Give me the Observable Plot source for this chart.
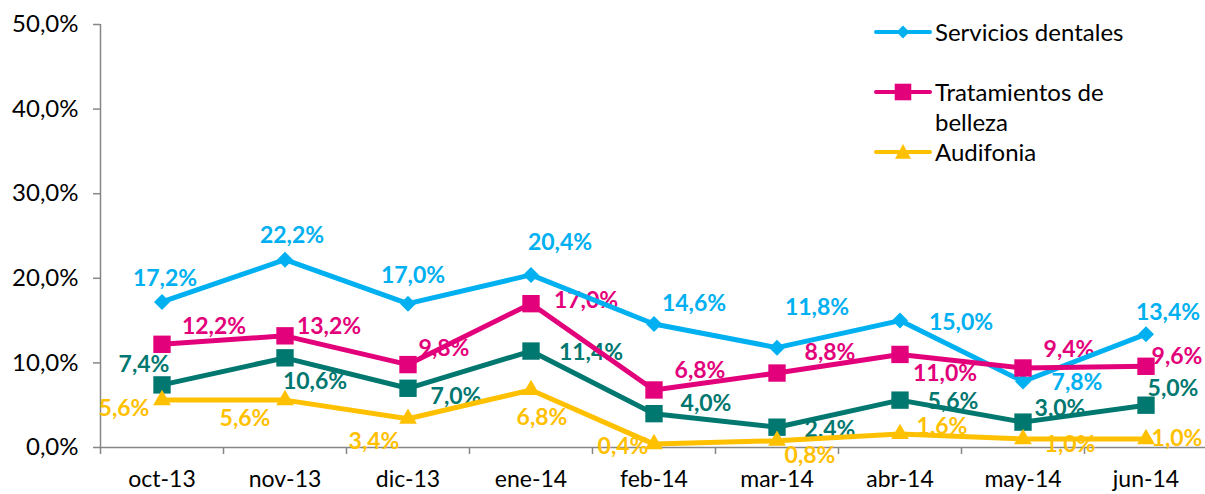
<!DOCTYPE html>
<html>
<head>
<meta charset="utf-8">
<script src="https://cdn.jsdelivr.net/npm/d3@7"></script>
<script src="https://cdn.jsdelivr.net/npm/@observablehq/plot@0.6"></script>
<style>
  html, body { margin: 0; padding: 0; background: #ffffff; }
  #wrap { position: relative; width: 1205px; height: 494px; overflow: hidden; font-family: Lato, "Open Sans", sans-serif; }
  #wrap svg.plot { position: absolute; left: 0; top: 0; }
  .leg-sym { position: absolute; left: 872px; width: 62px; height: 24px; }
  .leg-txt { position: absolute; left: 935px; width: 215px; font-size: 24px; line-height: 30px; color: #000; }
</style>
</head>
<body>
<div id="wrap"></div>
<script>
// ---- data ----
const months = ["oct-13", "nov-13", "dic-13", "ene-14", "feb-14", "mar-14", "abr-14", "may-14", "jun-14"];
const seriesNames = ["Servicios dentales", "Tratamientos de belleza", "Otros", "Audifonia"];
const serviciosDentales = [17.2, 22.2, 17.0, 20.4, 14.6, 11.8, 15.0, 7.8, 13.4];
const tratamientosBelleza = [12.2, 13.2, 9.8, 17.0, 6.8, 8.8, 11.0, 9.4, 9.6];
const otros = [7.4, 10.6, 7.0, 11.4, 4.0, 2.4, 5.6, 3.0, 5.0];
const audifonia = [5.6, 5.6, 3.4, 6.8, 0.4, 0.8, 1.6, 1.0, 1.0];
const yTicks = [0, 10, 20, 30, 40, 50];
const legendNames = ["Servicios dentales", "Tratamientos de belleza", "Audifonia"];

// ---- styles / layout ----
const seriesValues = [serviciosDentales, tratamientosBelleza, otros, audifonia];
const colors = ["#00B0F0", "#E3007B", "#00776F", "#FFC000"];
const symbols = ["diamond2", "square", "square", "triangle"];
const symbolR = [7.2, 9.8, 9.8, 6.6];
// data-label nudges (pixels, relative to each point) as placed in the original
const labelDx = [
  [3, 7, 5, 29, 40, 40, 61, 54, 22],
  [52, 44, 36, 55, 46, 53, 45, 46, 31],
  [-18, 30, 48, 60, 52, 53, 53, 37, 27],
  [-38, -40, -34, 11, -31, 33, 42, 47, 31]
];
const labelDy = [
  [-23, -24, -28, -32, -20, -40, 2, 1, -22],
  [-18, -9, -16, -3, -19, -20, 19, -18, -10],
  [-20, 24, 8, 2, -10, 2, 2, -13, -17],
  [9, 19, 23, 28, 3, 15, -7, 6, 0]
];

const fmt = v => v.toFixed(1).replace(".", ",") + "%";

const rows = [];
seriesValues.forEach((vals, s) => vals.forEach((v, i) => rows.push({s, i, value: v})));

const labelMarks = rows.map(r => Plot.text([r], {
  x: "i", y: "value", text: d => fmt(d.value),
  dx: labelDx[r.s][r.i], dy: labelDy[r.s][r.i],
  fill: colors[r.s], fontWeight: "bold", fontSize: 23, textAnchor: "middle"
}));

const seriesMarks = [];
seriesValues.forEach((vals, s) => {
  const data = rows.filter(r => r.s === s);
  seriesMarks.push(Plot.line(data, {x: "i", y: "value", stroke: colors[s], strokeWidth: 5, strokeLinejoin: "round", strokeLinecap: "round"}));
  seriesMarks.push(Plot.dot(data, {x: "i", y: "value", symbol: symbols[s], r: symbolR[s], fill: colors[s], stroke: "none"}));
});

const boundaries = d3.range(months.length).map(i => i - 0.5);

const chart = Plot.plot({
  width: 1205,
  height: 494,
  marginTop: 24,
  marginBottom: 47,
  marginLeft: 100,
  marginRight: 0,
  style: {fontFamily: "Lato, 'Open Sans', sans-serif", fontSize: "22px", color: "#000", background: "transparent", overflow: "visible"},
  x: {domain: [-0.5, months.length - 0.5], range: [100, 1207]},
  y: {domain: [0, 50], range: [447, 24]},
  marks: [
    Plot.axisY({ticks: yTicks, tickSize: 7, tickPadding: 15, tickFormat: fmt, stroke: "#868686", fill: "#000", fontSize: 24, strokeWidth: 1.5, label: null}),
    Plot.axisX({ticks: boundaries, tickSize: 7, tickFormat: () => "", stroke: "#868686", strokeWidth: 1.5, label: null}),
    Plot.axisX({ticks: d3.range(months.length), tickSize: 0, tickPadding: 23, tickFormat: i => months[i], fill: "#000", fontSize: 23, label: null}),
    Plot.ruleX([-0.5], {stroke: "#868686", strokeWidth: 1.5}),
    Plot.ruleY([0], {stroke: "#868686", strokeWidth: 1.5}),
    ...labelMarks,
    ...seriesMarks
  ]
});

const wrap = document.getElementById("wrap");
wrap.appendChild(chart);

// ---- legend (three entries, as in the original) ----
const legendCenters = [32, 92, 152];
const legendSeries = [0, 1, 3];
const legSymSize = [{d: "diamond", r: 6.5}, {d: "square", r: 8.3}, {d: "triangle", r: 8}];
legendNames.forEach((name, k) => {
  const s = legendSeries[k];
  const cy = legendCenters[k];
  const svg = d3.create("svg").attr("class", "leg-sym").attr("width", 62).attr("height", 24)
    .style("top", (cy - 12) + "px");
  svg.append("line").attr("x1", 4).attr("x2", 58).attr("y1", 12).attr("y2", 12)
    .attr("stroke", colors[s]).attr("stroke-width", 4).attr("stroke-linecap", "round");
  const m = legSymSize[k];
  let path;
  if (m.d === "diamond") path = `M31,${12 - m.r}L${31 + m.r},12L31,${12 + m.r}L${31 - m.r},12Z`;
  else if (m.d === "square") path = `M${31 - m.r},${12 - m.r}h${2 * m.r}v${2 * m.r}h${-2 * m.r}Z`;
  else path = `M31,${12 - m.r}L${31 + m.r},${12 + m.r * 0.85}L${31 - m.r},${12 + m.r * 0.85}Z`;
  svg.append("path").attr("d", path).attr("fill", colors[s]);
  wrap.appendChild(svg.node());
  const div = document.createElement("div");
  div.className = "leg-txt";
  div.style.top = (cy - 15) + "px";
  div.textContent = name;
  wrap.appendChild(div);
});
</script>
</body>
</html>
